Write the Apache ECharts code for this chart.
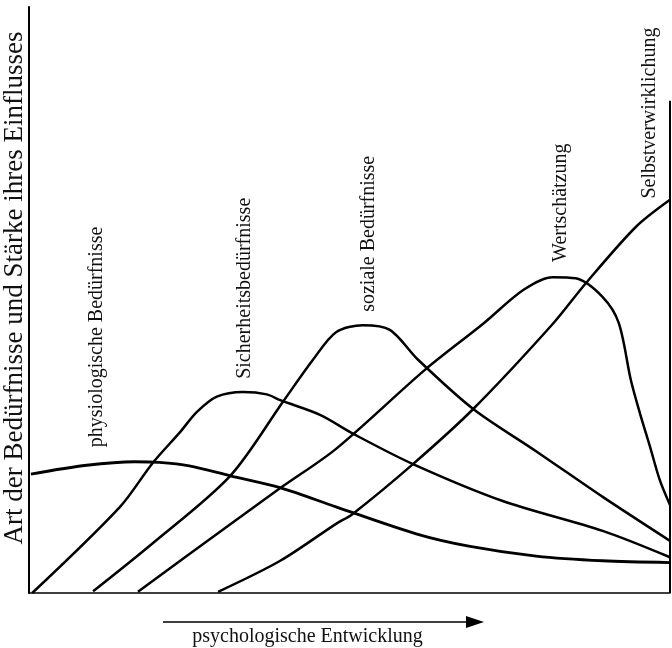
<!DOCTYPE html>
<html>
<head>
<meta charset="utf-8">
<script src="https://cdn.jsdelivr.net/npm/echarts@6/dist/echarts.min.js"></script>
<style>
  html, body { margin: 0; padding: 0; background: #fff; }
  #chart { width: 672px; height: 648px; }
</style>
</head>
<body>
<div id="chart"></div>
<script>
// values, x = psychologische Entwicklung (0-100), y = Stärke (0-100)
var physiologisch = [[0.3, 20.3], [9.0, 21.8], [16.5, 22.4], [20.3, 22.3], [25.0, 21.7], [31.4, 20.0],
  [39.4, 17.9], [47.9, 14.7], [60.4, 10.1], [68.6, 8.0], [79.1, 6.3], [89.5, 5.5], [100, 5.2]]
var sicherheit = [[0.5, 0], [14.2, 14.7], [19.3, 22.2], [23.6, 27.5], [26.2, 30.9], [29.3, 33.5],
  [33.4, 34.3], [37.1, 33.9], [39.2, 32.9], [45.4, 30.4], [50.7, 27.1], [59.9, 22.0],
  [73.9, 15.7], [89.5, 10.6], [100, 6.1]]
var sozial = [[10.0, 0.3], [19.3, 8.5], [31.4, 20.0], [39.6, 32.6], [44.3, 39.8], [47.9, 44.5],
  [52.1, 45.7], [56.3, 44.9], [60.7, 39.8], [69.3, 31.4], [79.1, 24.2], [89.5, 16.4], [100, 8.9]]
var wertschaetzung = [[17.0, 0.2], [24.6, 6.3], [39.2, 17.9], [47.9, 24.6], [61.9, 38.2], [70.8, 45.9],
  [77.1, 51.7], [81.7, 53.9], [85.3, 53.7], [89.5, 50.5], [92.0, 46.1], [93.9, 36.3],
  [95.3, 30.7], [96.9, 24.9], [98.4, 19.3], [100, 15.0]]
var selbst = [[29.5, 0.2], [39.2, 5.5], [47.9, 11.8], [50.5, 13.5], [59.9, 22.0], [69.3, 31.4],
  [81.7, 45.9], [86.9, 52.9], [94.7, 62.5], [100, 67.1]]

var seriesNames = ['physiologische Bedürfnisse', 'Sicherheitsbedürfnisse', 'soziale Bedürfnisse',
  'Wertschätzung', 'Selbstverwirklichung']
var seriesData = [physiologisch, sicherheit, sozial, wertschaetzung, selbst]
// where each curve name sits (data coordinates)
var labelPos = [[10.6, 43.7], [33.7, 52.0], [53.0, 61.3], [83.0, 66.6], [96.9, 81.9]]

var font = '"Liberation Serif", "DejaVu Serif", serif'

var chart = echarts.init(document.getElementById('chart'))

var series = []
for (var i = 0; i < seriesData.length; i++) {
  series.push({
    name: seriesNames[i],
    type: 'line',
    data: seriesData[i],
    smooth: 0.3,
    symbol: 'none',
    lineStyle: { color: '#000', width: i === 0 ? 2.8 : 2.5 },
    markPoint: {
      symbol: 'circle',
      symbolSize: 0,
      silent: true,
      data: [{ coord: labelPos[i], value: seriesNames[i] }],
      label: {
        show: true,
        position: 'inside',
        rotate: 90,
        formatter: seriesNames[i],
        color: '#111',
        fontFamily: font,
        fontSize: 20
      }
    }
  })
}
// right border line of the chart
series[3].markLine = {
  silent: true,
  symbol: 'none',
  label: { show: false },
  lineStyle: { color: '#000', width: 2, type: 'solid' },
  data: [[{ coord: [100, 84] }, { coord: [100, 0] }]]
}

chart.setOption({
  animation: false,
  backgroundColor: '#fff',
  grid: { left: 29, right: 2, top: 7, bottom: 55, containLabel: false, outerBoundsMode: 'none' },
  xAxis: {
    type: 'value',
    min: 0,
    max: 100,
    name: 'psychologische Entwicklung',
    nameLocation: 'middle',
    nameGap: 34,
    nameTextStyle: { color: '#111', fontFamily: font, fontSize: 20, padding: [0, 84, 0, 0] },
    axisLine: { show: true, lineStyle: { color: '#000', width: 1.5 } },
    axisTick: { show: false },
    axisLabel: { show: false },
    splitLine: { show: false }
  },
  yAxis: {
    type: 'value',
    min: 0,
    max: 100,
    name: 'Art der Bedürfnisse und Stärke ihres Einflusses',
    nameLocation: 'middle',
    nameRotate: 90,
    nameGap: 1,
    nameTextStyle: { color: '#111', fontFamily: font, fontSize: 27, padding: [0, 0, 0, 24] },
    axisLine: { show: true, lineStyle: { color: '#000', width: 2 } },
    axisTick: { show: false },
    axisLabel: { show: false },
    splitLine: { show: false }
  },
  graphic: [
    {
      type: 'line',
      shape: { x1: 163, y1: 622, x2: 470, y2: 622 },
      style: { stroke: '#000', lineWidth: 1.5 }
    },
    {
      type: 'polygon',
      shape: { points: [[466, 616], [484, 622], [466, 628]] },
      style: { fill: '#000' }
    }
  ],
  series: series
})
</script>
</body>
</html>
